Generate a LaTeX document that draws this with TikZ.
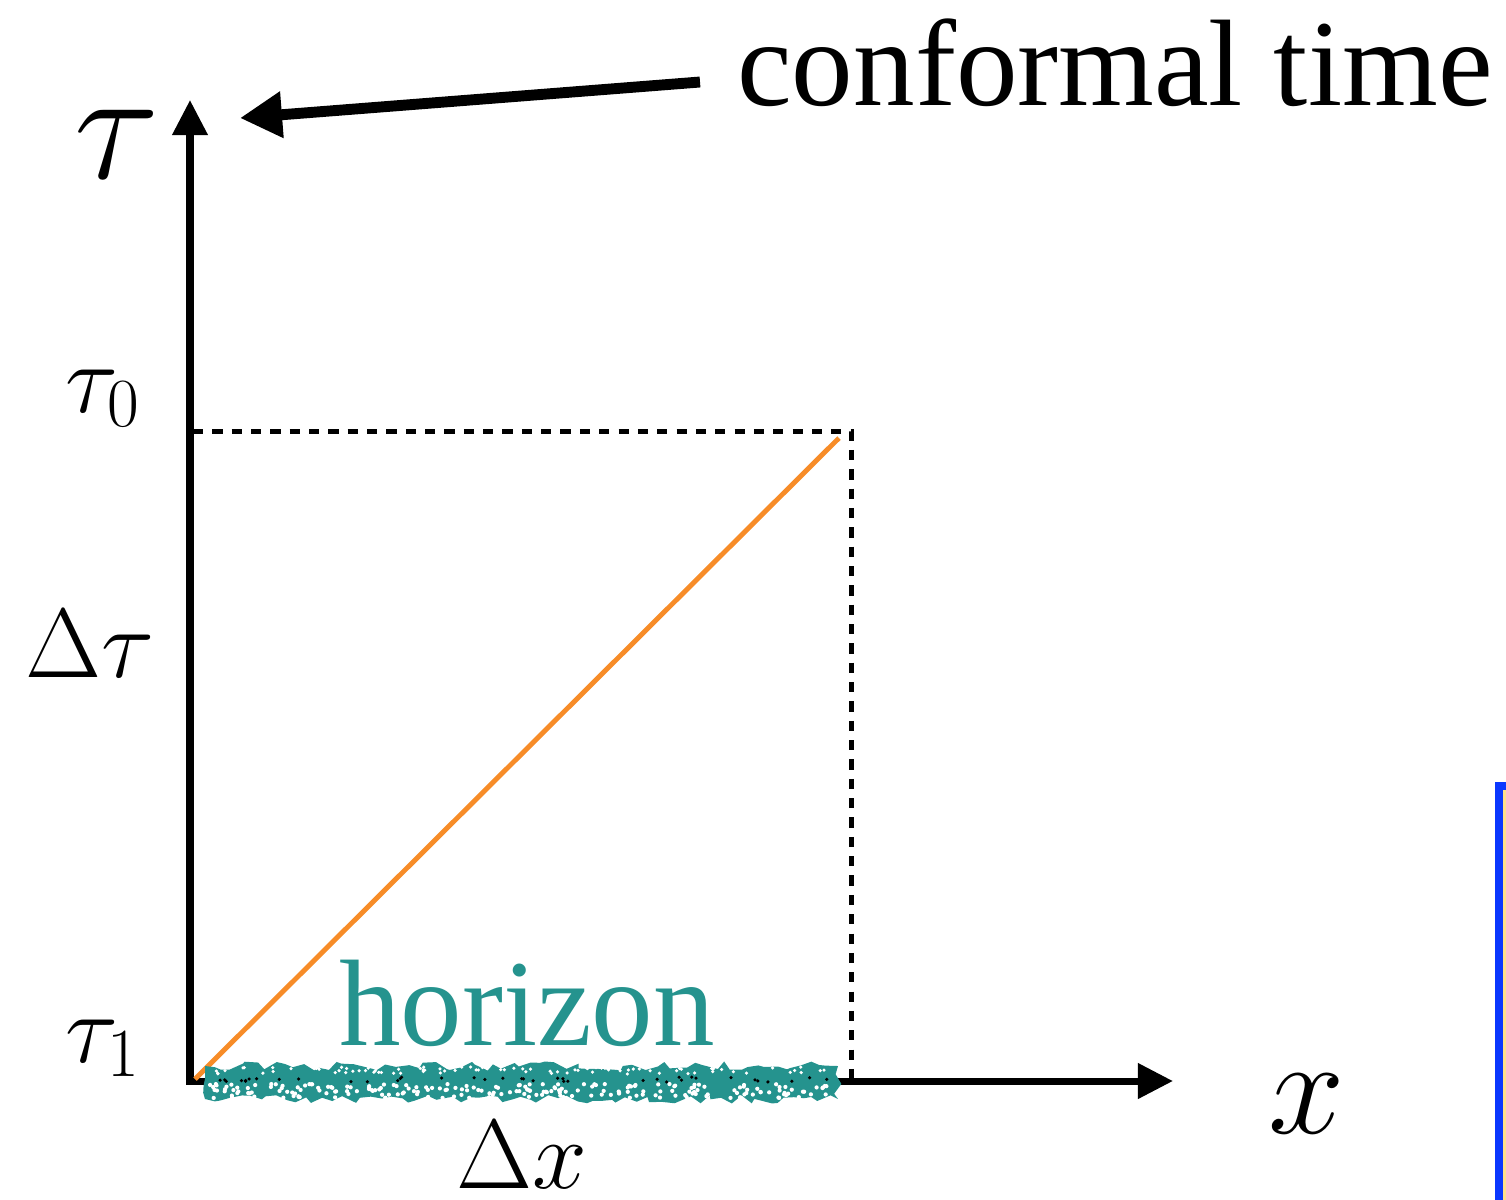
\RequirePackage{fix-cm}
\documentclass[tikz,border=0pt]{standalone}
\usepackage{fontspec}
\usetikzlibrary{arrows.meta, decorations.pathmorphing}
\newfontfamily\wordfont{Liberation Serif}
\definecolor{horizonteal}{HTML}{25938E}
\definecolor{rayorange}{HTML}{F78C28}
\definecolor{frameblue}{HTML}{0A37FF}
\definecolor{framefill}{HTML}{FFE08A}
\tikzset{
  axis/.style    = {line width=2pt, -{Triangle[length=0.35cm, width=0.34cm]}},
  guide/.style   = {line width=1.4pt, dash pattern=on 2.9pt off 2.6pt},
  ray/.style     = {line width=1.4pt, draw=rayorange},
  pointer/.style = {line width=3.1pt, -{Triangle[length=0.42cm, width=0.44cm]}},
  word/.style    = {inner sep=0pt, font=\wordfont\fontsize{35}{40}\selectfont},
  sym/.style     = {inner sep=0pt, font=\fontsize{28}{32}\selectfont},
  bigsym/.style  = {inner sep=0pt, font=\fontsize{45}{50}\selectfont},
  fuzz/.style    = {fill=horizonteal, decorate,
                    decoration={random steps, segment length=2.5pt, amplitude=1.3pt}},
}

\begin{document}
\begin{tikzpicture}[x=0.01cm, y=-0.01cm]
\useasboundingbox (0,0) rectangle (1506,1199);

% Cut-off frame at the right edge
\begin{scope}
  \clip (0,0) rectangle (1506,1199);
  \draw[frameblue, line width=2.3pt, fill=framefill] (1499,786) rectangle (1800,1400);
\end{scope}

% Axes
\coordinate (O) at (190,1081);
\coordinate (ytip) at (190,100);
\coordinate (xtip) at (1173,1081);
\draw[axis] (O) -- (ytip);
\draw[axis] ([xshift=-1pt]O) -- (xtip);

% Box up to tau_0 and the light ray
\coordinate (t0) at (193,431.5);
\coordinate (corner) at (851.5,431.5);
\coordinate (foot) at (851.5,1081);
\draw[guide] (t0) -- (corner) -- (foot);
\coordinate (rayA) at (195,1079);
\coordinate (rayB) at (839,438);
\draw[ray] (rayA) -- (rayB);

% Fuzzy horizon band along the x axis
\pgfmathsetseed{11}
\fill[fuzz] (205,1066) rectangle (838,1099);
\foreach \k in {1,...,220} {
  \pgfmathsetmacro\px{210+622*rnd}
  \pgfmathsetmacro\py{1084+14*rnd}
  \fill[white] (\px,\py) circle (0.6pt);
}
\foreach \k in {1,...,90} {
  \pgfmathsetmacro\px{210+622*rnd}
  \pgfmathsetmacro\py{1067+7*rnd}
  \fill[white] (\px,\py) circle (0.5pt);
}
\foreach \k in {1,...,40} {
  \pgfmathsetmacro\px{208+626*rnd}
  \pgfmathsetmacro\py{1077+5*rnd}
  \fill (\px,\py) circle (0.5pt);
}

% Labels
\node (tau)   [bigsym, anchor=base west] at (74,178) {$\tau$};
\node (tauz)  [sym, anchor=base west] at (65,412) {$\tau_0$};
\node (dtau)  [sym, anchor=base west] at (25,677) {$\Delta\tau$};
\node (tauo)  [sym, anchor=base west] at (65,1062) {$\tau_1$};
\node (dx)    [sym, anchor=base west] at (456,1188) {$\Delta x$};
\node (xlab)  [inner sep=0pt, font=\fontsize{39}{44}\selectfont, anchor=base west] at (1268,1133) {$x$};
\node (hzn)   [word, text=horizonteal, anchor=base] at (527,1045) {horizon};
\node (ct)    [word, anchor=base] at (1115,105) {conformal time};

% Pointer from the caption to the time axis
\coordinate (ptrA) at (700,82);
\coordinate (ptrB) at (240,118);
\draw[pointer] (ptrA) -- (ptrB);

\end{tikzpicture}
\end{document}
